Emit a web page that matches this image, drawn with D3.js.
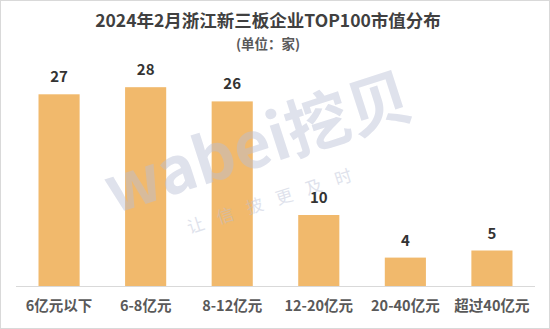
<!DOCTYPE html>
<html>
<head>
<meta charset="utf-8">
<script src="https://cdn.jsdelivr.net/npm/d3@7"></script>
<style>
    html, body { margin: 0; padding: 0; background: #fff; }
    #chart svg { display: block; }
</style>
</head>
<body>
<div id="chart"></div>
<script>
// Data
const categories = ["6亿元以下", "6-8亿元", "8-12亿元", "12-20亿元", "20-40亿元", "超过40亿元"];
const counts = [27, 28, 26, 10, 4, 5];
const titleText = "2024年2月浙江新三板企业TOP100市值分布";
const unitText = "(单位：家)";

const W = 550, H = 329;
const FONT = "'Noto Sans CJK SC', 'Noto Sans', sans-serif";

function renderChart() {
    const svg = d3.select("#chart").append("svg")
        .attr("width", W)
        .attr("height", H);

    svg.append("rect")
        .attr("x", 0.5).attr("y", 0.5)
        .attr("width", W - 1).attr("height", H - 1)
        .attr("fill", "#fff")
        .attr("stroke", "#d9d9d9");

    // --- scales ---
    const x = d3.scaleBand()
        .domain(categories)
        .range([16, 535])
        .paddingInner(0.525)
        .paddingOuter(0.26);

    const y = d3.scaleLinear()
        .domain([0, 30])
        .range([286, 73]);

    // bars
    svg.append("g").selectAll("rect")
        .data(counts)
        .join("rect")
        .attr("x", (d, i) => x(categories[i]))
        .attr("y", d => y(d))
        .attr("width", x.bandwidth())
        .attr("height", d => y(0) - y(d))
        .attr("fill", "#f1b96c");

    // watermark sits over the bars, semi transparent
    const wm = svg.append("g").attr("fill", "#b9bfd6").attr("opacity", 0.45).attr("font-family", FONT).attr("font-weight", 700);
    wm.append("text")
        .attr("transform", "translate(265,165) rotate(-18)")
        .attr("text-anchor", "middle")
        .attr("font-size", 64)
        .text("wabei挖贝");
    wm.append("text")
        .attr("transform", "translate(278,205) rotate(-18)")
        .attr("text-anchor", "middle")
        .attr("font-size", 17)
        .attr("font-weight", 400)
        .attr("letter-spacing", 14)
        .text("让信披更及时");

    // baseline
    const axis = svg.append("g")
        .attr("transform", `translate(0,${y(0)})`)
        .call(d3.axisBottom(x).tickSize(0).tickPadding(15));
    axis.select(".domain").attr("stroke", "#d9d9d9").attr("d", "M16,0.5H535");
    axis.selectAll("text")
        .attr("font-family", FONT)
        .attr("font-size", 14.5)
        .attr("font-weight", 700)
        .attr("fill", "#595959");

    // value labels
    svg.append("g").selectAll("text")
        .data(counts)
        .join("text")
        .attr("x", (d, i) => x(categories[i]) + x.bandwidth() / 2)
        .attr("y", d => y(d) - 12)
        .attr("text-anchor", "middle")
        .attr("font-family", FONT)
        .attr("font-size", 15)
        .attr("font-weight", 700)
        .attr("fill", "#333")
        .text(d => d);

    // titles
    svg.append("text")
        .attr("x", 268).attr("y", 27)
        .attr("text-anchor", "middle")
        .attr("font-family", FONT)
        .attr("font-size", 17.5)
        .attr("font-weight", 700)
        .attr("fill", "#404040")
        .text(titleText);
    svg.append("text")
        .attr("x", 268).attr("y", 49)
        .attr("text-anchor", "middle")
        .attr("font-family", FONT)
        .attr("font-size", 13.5)
        .attr("font-weight", 700)
        .attr("fill", "#595959")
        .text(unitText);
}

document.addEventListener("DOMContentLoaded", renderChart);
</script>
</body>
</html>
